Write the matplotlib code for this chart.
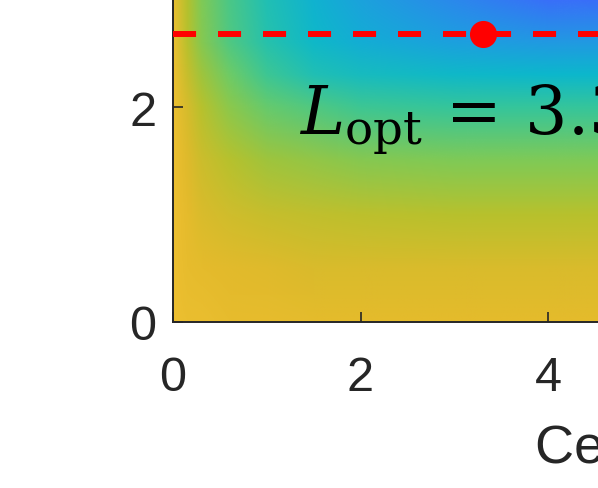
import numpy as np
import matplotlib
matplotlib.use("Agg")
import matplotlib.pyplot as plt
from matplotlib.colors import LinearSegmentedColormap
from matplotlib.image import NonUniformImage

plt.rcParams['font.family'] = ['Liberation Sans', 'DejaVu Sans']
plt.rcParams['mathtext.fontset'] = 'custom'
plt.rcParams['mathtext.rm'] = 'DejaVu Serif'
plt.rcParams['mathtext.it'] = 'DejaVu Serif:italic'
plt.rcParams['lines.scale_dashes'] = False

# field values (normalized colour level)
x_nodes = [0.0, 0.15, 0.3, 0.6, 1.0, 1.5, 2.0, 3.0, 4.0, 6.0]
y_nodes = [0.0, 0.5, 1.0, 1.5, 2.0, 2.3, 2.6, 3.0, 4.0]
field = [
    [0.84, 0.83, 0.83, 0.82, 0.82, 0.81, 0.81, 0.81, 0.81, 0.81],
    [0.84, 0.82, 0.81, 0.80, 0.79, 0.78, 0.78, 0.78, 0.78, 0.78],
    [0.84, 0.81, 0.78, 0.76, 0.74, 0.73, 0.72, 0.71, 0.71, 0.71],
    [0.84, 0.79, 0.75, 0.71, 0.67, 0.65, 0.63, 0.62, 0.62, 0.62],
    [0.84, 0.77, 0.71, 0.64, 0.58, 0.55, 0.52, 0.51, 0.51, 0.51],
    [0.84, 0.74, 0.67, 0.59, 0.52, 0.46, 0.43, 0.41, 0.40, 0.40],
    [0.84, 0.71, 0.63, 0.55, 0.48, 0.41, 0.36, 0.31, 0.29, 0.29],
    [0.83, 0.70, 0.62, 0.54, 0.46, 0.38, 0.32, 0.25, 0.19, 0.18],
    [0.82, 0.68, 0.58, 0.48, 0.38, 0.28, 0.20, 0.13, 0.09, 0.09],
]

L_opt = 3.31
y_line = 2.68
label_text = r"$L_{\mathrm{opt}}\,=\,3.31$"
x_label = "Cell length"
xticks = [0, 2, 4, 6]
yticks = [0, 2, 4]

cmap_colors = [
    (0.0, (0.24, 0.15, 0.66)),
    (0.10, (0.28, 0.30, 0.95)),
    (0.20, (0.22, 0.45, 0.98)),
    (0.30, (0.12, 0.62, 0.88)),
    (0.40, (0.05, 0.72, 0.80)),
    (0.50, (0.18, 0.77, 0.64)),
    (0.60, (0.45, 0.80, 0.38)),
    (0.70, (0.70, 0.76, 0.18)),
    (0.80, (0.89, 0.73, 0.17)),
    (0.90, (0.99, 0.78, 0.22)),
    (1.00, (0.98, 0.98, 0.08)),
]
cmap = LinearSegmentedColormap.from_list("parula_like", cmap_colors)

W, H = 598, 489
fig = plt.figure(figsize=(W / 100, H / 100), dpi=100)
xmax, ymax = 6.0, 4.0
px_per_x = 93.75
px_per_y = 107.5
ax = fig.add_axes([173 / W, (H - 323) / H, xmax * px_per_x / W, ymax * px_per_y / H])

im = NonUniformImage(ax, interpolation='bilinear', extent=(0, xmax, 0, ymax), cmap=cmap)
im.set_data(np.array(x_nodes), np.array(y_nodes), np.array(field))
im.set_clim(0, 1)
ax.add_image(im)

ax.plot([0, xmax], [y_line, y_line], color='red', lw=4.3,
        linestyle=(0, (16.6, 15.8)), zorder=3)
ax.plot([L_opt], [y_line], 'o', color='red', markersize=18.5, zorder=4)

ax.text(1.34, 1.75, label_text, fontsize=48, va='baseline', ha='left', color='black')

ax.set_xlim(0, xmax)
ax.set_ylim(0, ymax)
ax.set_xticks(xticks)
ax.set_yticks(yticks)
dark = (0.15, 0.15, 0.15)
for s in ax.spines.values():
    s.set_linewidth(1.4)
    s.set_color(dark)
ax.tick_params(direction='in', length=7, width=1.2, colors=dark, labelsize=35,
               top=True, right=True)
ax.tick_params(axis='x', pad=24)
ax.tick_params(axis='y', pad=12)

ax.set_xlabel(x_label, fontsize=39, color=dark, ha='left')
ax.xaxis.set_label_coords((535 - 173) / (xmax * px_per_x), -0.235)

fig.savefig("out.png", dpi=100)
